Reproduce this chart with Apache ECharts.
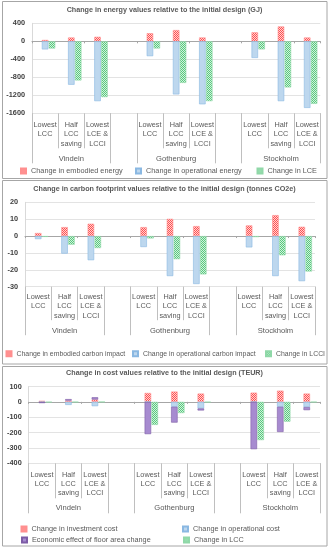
<!DOCTYPE html>
<html><head><meta charset="utf-8">
<script src="https://cdn.jsdelivr.net/npm/echarts@6/dist/echarts.min.js"></script>
<style>html,body{margin:0;padding:0;background:#fff}#c{width:329px;height:550px}</style>
</head><body><div id="c"></div>
<script>
// ---------- data ----------
const categories = ['Lowest\nLCC', 'Half\nLCC\nsaving', 'Lowest\nLCE &\nLCCI', '',
                    'Lowest\nLCC', 'Half\nLCC\nsaving', 'Lowest\nLCE &\nLCCI', '',
                    'Lowest\nLCC', 'Half\nLCC\nsaving', 'Lowest\nLCE &\nLCCI'];
const cityLabels = ['', 'Vindeln', '', '', '', 'Gothenburg', '', '', '', 'Stockholm', ''];
const groupBoundaries = [0, 3, 4, 7, 8];

const titles = [
  'Change in energy values relative to the initial design (GJ)',
  'Change in carbon footprint values relative to the initial design (tonnes CO2e)',
  'Change in cost values relative to the initial design (TEUR)'
];

// energy (GJ)
const embodiedEnergy    = [30, 85, 100, null, 180, 250, 85, null, 200, 330, 85];
const operationalEnergy = [-180, -965, -1330, null, -330, -1180, -1400, null, -370, -1330, -1480];
const lceChange         = [-160, -870, -1240, null, -160, -925, -1330, null, -180, -1025, -1390];
const energyTicks = {min: -1600, max: 400, interval: 400};

// carbon (tonnes CO2e)
const embodiedCarbon    = [1.8, 5.3, 7.3, null, 5.3, 10.2, 5.9, null, 6.3, 12.4, 5.5];
const operationalCarbon = [-1.8, -10.4, -14.3, null, -6.5, -23.7, -28.4, null, -6.7, -23.7, -26.7];
const lcciChange        = [-0.5, -5.1, -7.1, null, -1.4, -13.7, -22.7, null, -0.6, -11.4, -21.0];
const carbonTicks = {min: -30, max: 20, interval: 10};

// cost (TEUR)
const investmentCost  = [7, 8, 15, null, 58, 67, 54, null, 60, 73, 54];
const operationalCost = [-2, -20, -28, null, -1, -32, -43, null, -1, -32, -34];
const floorAreaEffect = [-6, 10, 15, null, -209, -103, -13, null, -307, -164, -20];
const lccChange       = [-3, -2, -1, null, -150, -73, -3, null, -249, -129, -2];
const costTicks = {min: -400, max: 100, interval: 100};

// ---------- styles ----------
const FONT = "'Liberation Sans',Arial,sans-serif";
const TXT = '#595959';
function checker(c1, c2) {
  const cv = document.createElement('canvas');
  cv.width = 2; cv.height = 2;
  const ctx = cv.getContext('2d');
  ctx.fillStyle = c2; ctx.fillRect(0, 0, 2, 2);
  ctx.fillStyle = c1; ctx.fillRect(0, 0, 1, 1); ctx.fillRect(1, 1, 1, 1);
  return {image: cv, repeat: 'repeat'};
}
const RED = {color: checker('#ff5050', '#ffd3d3'), borderColor: '#ff8f8f', borderWidth: 0.6};
const BLUE = {color: '#bdd7ee', borderColor: '#8ab8e2', borderWidth: 0.6};
const GREEN = {color: checker('#58c97e', '#d2f1dc'), borderColor: '#90d8a8', borderWidth: 0.6};
const PURPLE = {color: '#a78bd0', borderColor: '#7d5ca6', borderWidth: 0.6};

const panels = [
  {grid: {left: 32, top: 23.3, width: 288.3, height: 90}, ticks: energyTicks,
   catMargin: 7, tickShort: 35, tickLong: 50, cityMargin: 41.5, titleTop: 7, legendFont: 7.3,
   series: [
     {name: 'Change in embodied energy', data: embodiedEnergy, stack: 'a', style: RED},
     {name: 'Change in operational energy', data: operationalEnergy, stack: 'a', style: BLUE},
     {name: 'Change in LCE', data: lceChange, stack: 'b', style: GREEN}],
   legends: [[20, 167.5], [135, 167.5], [256.5, 167.5]]},
  {grid: {left: 25, top: 202.3, width: 290, height: 84.4}, ticks: carbonTicks,
   catMargin: 5.5, tickShort: 33.5, tickLong: 48.5, cityMargin: 40.5, titleTop: 186, legendFont: 6.9,
   series: [
     {name: 'Change in embodied carbon impact', data: embodiedCarbon, stack: 'a', style: RED},
     {name: 'Change in operational carbon impact', data: operationalCarbon, stack: 'a', style: BLUE},
     {name: 'Change in LCCI', data: lcciChange, stack: 'b', style: GREEN}],
   legends: [[5.5, 350.3], [132, 350.3], [265, 350.3]]},
  {grid: {left: 28.7, top: 386.5, width: 291.3, height: 76.8}, ticks: costTicks,
   catMargin: 6.5, tickShort: 35, tickLong: 50, cityMargin: 41, titleTop: 369.3, legendFont: 7.3,
   series: [
     {name: 'Change in investment cost', data: investmentCost, stack: 'a', style: RED},
     {name: 'Change in operational cost', data: operationalCost, stack: 'a', style: BLUE},
     {name: 'Economic effect of floor area change', data: floorAreaEffect, stack: 'a', style: PURPLE},
     {name: 'Change in LCC', data: lccChange, stack: 'b', style: GREEN}],
   legends: [[20.5, 525.5], [182, 525.5], [21, 536.5], [183, 536.5]]}
];

const option = {
  backgroundColor: '#fff',
  animation: false,
  title: [], grid: [], xAxis: [], yAxis: [], series: [], legend: [],
  graphic: [
    {type: 'rect', shape: {x: 2.5, y: 1.5, width: 324.5, height: 177}, style: {fill: 'none', stroke: '#a6a6a6', lineWidth: 1}, silent: true},
    {type: 'rect', shape: {x: 2.5, y: 180.5, width: 324.5, height: 183.5}, style: {fill: 'none', stroke: '#a6a6a6', lineWidth: 1}, silent: true},
    {type: 'rect', shape: {x: 2.5, y: 366.5, width: 324.5, height: 179.5}, style: {fill: 'none', stroke: '#a6a6a6', lineWidth: 1}, silent: true}
  ]
};

panels.forEach((p, gi) => {
  option.title.push({text: titles[gi], left: 'center', top: p.titleTop, padding: 0,
    textStyle: {fontSize: 7.2, fontWeight: 'bold', color: TXT, fontFamily: FONT}});
  option.grid.push(Object.assign({containLabel: false}, p.grid));
  option.yAxis.push({type: 'value', gridIndex: gi, min: p.ticks.min, max: p.ticks.max, interval: p.ticks.interval,
    axisLine: {show: true, lineStyle: {color: '#d9d9d9'}}, axisTick: {show: false},
    axisLabel: {fontSize: 7.3, color: '#404040', fontWeight: 'bold', fontFamily: FONT, margin: 7,
      formatter: (v) => String(v)},
    splitLine: {lineStyle: {color: '#e3e3e3'}}});
  const xBase = option.xAxis.length;
  // category labels with separators
  option.xAxis.push({type: 'category', gridIndex: gi, position: 'bottom', data: categories,
    axisLine: {show: false, onZero: false},
    axisTick: {show: true, length: p.tickShort, lineStyle: {color: '#bfbfbf'}},
    axisLabel: {interval: 0, fontSize: 7.3, lineHeight: 9.4, color: TXT, fontFamily: FONT, margin: p.catMargin, verticalAlign: 'top'}});
  // city group labels with long separators
  option.xAxis.push({type: 'category', gridIndex: gi, position: 'bottom', data: cityLabels,
    axisLine: {show: false, onZero: false},
    axisTick: {show: true, length: p.tickLong, interval: (i) => groupBoundaries.includes(i), lineStyle: {color: '#bfbfbf'}},
    axisLabel: {interval: 0, fontSize: 7.6, color: TXT, fontFamily: FONT, margin: p.cityMargin, verticalAlign: 'top'}});
  // zero line
  option.xAxis.push({type: 'category', gridIndex: gi, position: 'bottom', data: categories,
    axisLine: {show: true, onZero: true, lineStyle: {color: '#a6a6a6'}},
    axisTick: {show: true, length: 2, lineStyle: {color: '#a6a6a6'}},
    axisLabel: {show: false}});
  // empty leading slot (Excel cluster has an unused first position)
  option.series.push({type: 'bar', name: 'pad' + gi, xAxisIndex: xBase, yAxisIndex: gi, stack: 'pad' + gi,
    data: [], barWidth: 6.5, barGap: '6%', silent: true});
  p.series.forEach(s => {
    option.series.push({type: 'bar', name: s.name, xAxisIndex: xBase, yAxisIndex: gi, stack: s.stack + gi,
      data: s.data, barWidth: 6.5, barGap: '6%', itemStyle: s.style, silent: true});
  });
  p.series.forEach((s, k) => {
    option.legend.push({data: [s.name], left: p.legends[k][0], top: p.legends[k][1], padding: 0,
      itemWidth: 5, itemHeight: 5, icon: 'rect', selectedMode: false,
      textStyle: {fontSize: p.legendFont, color: TXT, fontFamily: FONT}});
  });
});

const chart = echarts.init(document.getElementById('c'), null, {renderer: 'canvas'});
chart.setOption(option);
</script>
</body></html>
